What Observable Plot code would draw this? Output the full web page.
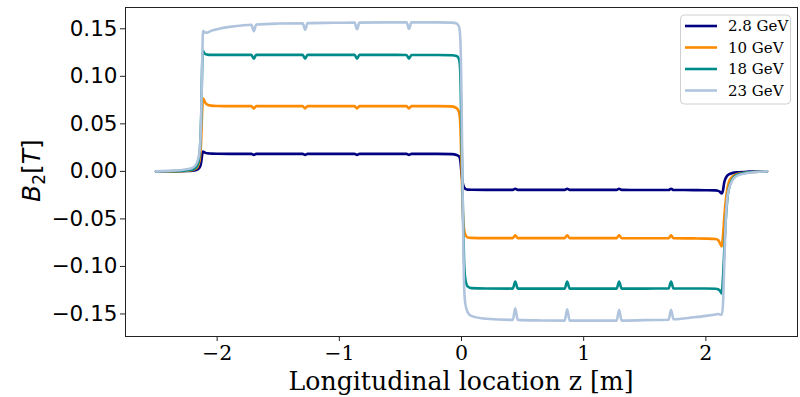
<!DOCTYPE html>
<html>
<head>
<meta charset="utf-8">
<script src="https://cdn.jsdelivr.net/npm/d3@7"></script>
<script src="https://cdn.jsdelivr.net/npm/@observablehq/plot@0.6"></script>
<style>
  html, body { margin: 0; padding: 0; background: #fff; }
  #chart svg { display: block; }
</style>
</head>
<body>
<div id="chart"></div>
<script>
// Longitudinal positions (m), shared by all series
const z = [-2.5, -2.4, -2.3, -2.25, -2.2, -2.18, -2.16, -2.15, -2.14, -2.13, -2.125, -2.12, -2.115, -2.11, -2.1, -2.08, -2.05, -2.0, -1.9, -1.8,
  -1.72, -1.70, -1.68, -1.5, -1.30, -1.28, -1.26, -1.05, -0.875, -0.855, -0.835, -0.65, -0.45, -0.43, -0.41, -0.2, -0.08, -0.04, -0.02, -0.01,
  0, 0.01, 0.02, 0.03, 0.05, 0.08, 0.2, 0.42, 0.44, 0.46, 0.65, 0.845, 0.865, 0.885, 1.05, 1.27, 1.29, 1.31, 1.5, 1.695,
  1.715, 1.735, 1.9, 2.0, 2.08, 2.1, 2.115, 2.13, 2.14, 2.15, 2.16, 2.175, 2.2, 2.25, 2.35, 2.5];

// B2 [T] for each beam energy
const b28 = [0, 0, 0.0002, 0.0004, 0.0008, 0.0012, 0.002, 0.003, 0.005, 0.010, 0.015, 0.0195, 0.0208, 0.0205, 0.0198, 0.019, 0.0187, 0.0185, 0.0184, 0.0184,
  0.0184, 0.0174, 0.0184, 0.0184, 0.0184, 0.0174, 0.0184, 0.0184, 0.0184, 0.0174, 0.0184, 0.0184, 0.0184, 0.0174, 0.0184, 0.0184, 0.0182, 0.0172, 0.0158, 0.012,
  -0.002, -0.012, -0.0165, -0.0182, -0.0192, -0.0194, -0.0195, -0.0195, -0.0182, -0.0195, -0.0195, -0.0195, -0.0182, -0.0195, -0.0195, -0.0195, -0.0182, -0.0195, -0.0196, -0.0196,
  -0.0183, -0.0196, -0.0197, -0.0198, -0.0200, -0.0205, -0.0215, -0.0232, -0.020, -0.012, -0.0078, -0.0045, -0.0025, -0.001, -0.0003, 0];

const b10 = [0, 0, 0.0003, 0.0007, 0.0015, 0.0025, 0.005, 0.008, 0.015, 0.035, 0.055, 0.070, 0.0765, 0.0758, 0.0728, 0.0702, 0.0692, 0.0688, 0.0686, 0.0686,
  0.0686, 0.0662, 0.0686, 0.0686, 0.0686, 0.0662, 0.0686, 0.0686, 0.0686, 0.0662, 0.0686, 0.0686, 0.0686, 0.0662, 0.0686, 0.0686, 0.0684, 0.0665, 0.062, 0.050,
  0.005, -0.040, -0.060, -0.066, -0.0695, -0.0700, -0.0702, -0.0702, -0.0672, -0.0702, -0.0702, -0.0702, -0.0672, -0.0702, -0.0702, -0.0702, -0.0672, -0.0702, -0.0703, -0.0703,
  -0.0673, -0.0703, -0.0705, -0.0707, -0.0712, -0.0722, -0.0755, -0.079, -0.068, -0.050, -0.034, -0.019, -0.008, -0.003, -0.001, 0];

const b18 = [0, 0.0002, 0.0005, 0.001, 0.002, 0.0035, 0.007, 0.012, 0.025, 0.06, 0.095, 0.121, 0.1265, 0.1255, 0.1238, 0.1228, 0.1226, 0.1226, 0.1226, 0.1226,
  0.1226, 0.1185, 0.1226, 0.1226, 0.1226, 0.1185, 0.1226, 0.1226, 0.1226, 0.1185, 0.1226, 0.1226, 0.1225, 0.1185, 0.1225, 0.1224, 0.1222, 0.1215, 0.118, 0.105,
  0.04, -0.03, -0.09, -0.112, -0.121, -0.1228, -0.1232, -0.1233, -0.1158, -0.1233, -0.1233, -0.1233, -0.1158, -0.1233, -0.1233, -0.1233, -0.1158, -0.1233, -0.1233, -0.1232,
  -0.1158, -0.1232, -0.1232, -0.1232, -0.1235, -0.124, -0.1255, -0.1285, -0.112, -0.085, -0.057, -0.030, -0.013, -0.004, -0.001, 0];

const b23 = [0, 0.0005, 0.0012, 0.0022, 0.004, 0.006, 0.011, 0.016, 0.026, 0.06, 0.095, 0.13, 0.1478, 0.1472, 0.1462, 0.146, 0.1478, 0.1495, 0.152, 0.1535,
  0.1542, 0.1475, 0.1545, 0.1555, 0.1558, 0.149, 0.156, 0.1563, 0.1565, 0.1495, 0.1565, 0.1568, 0.1568, 0.150, 0.1568, 0.1568, 0.1565, 0.1555, 0.152, 0.14,
  0.08, -0.03, -0.115, -0.138, -0.148, -0.152, -0.155, -0.1562, -0.144, -0.1562, -0.1568, -0.157, -0.145, -0.157, -0.157, -0.157, -0.1455, -0.157, -0.1565, -0.156,
  -0.1455, -0.1555, -0.1535, -0.152, -0.1505, -0.150, -0.1505, -0.151, -0.140, -0.100, -0.060, -0.028, -0.014, -0.005, -0.0015, 0];

const seriesLabels = ["2.8 GeV", "10 GeV", "18 GeV", "23 GeV"];
const xTicks = [-2, -1, 0, 1, 2];
const yTicks = [-0.15, -0.10, -0.05, 0.00, 0.05, 0.10, 0.15];

// build the table Plot needs
const seriesValues = [b28, b10, b18, b23];
const rows = seriesValues.flatMap((vals, s) => z.map((zz, i) => ({z: zz, b: vals[i], s: seriesLabels[s]})));

const colors = ["#000080", "#ff8c00", "#008b8b", "#b0c4de"];

const W = 800, H = 397;
const mL = 125, mR = 3, mT = 7, mB = 61;

const plot = Plot.plot({
  width: W,
  height: H,
  marginLeft: mL,
  marginRight: mR,
  marginTop: mT,
  marginBottom: mB,
  style: {fontFamily: "'DejaVu Sans', sans-serif", fontSize: "21.5px", color: "#000", background: "#fff", overflow: "visible"},
  x: {domain: [-2.75, 2.75]},
  y: {domain: [-0.1737, 0.1724]},
  color: {domain: seriesLabels, range: colors},
  marks: [
    Plot.line(rows, {x: "z", y: "b", stroke: "s", strokeWidth: 2.6, curve: "monotone-x"}),
    Plot.frame({stroke: "#222", strokeWidth: 1}),
    Plot.axisX({ticks: xTicks, tickFormat: d3.format("d"), tickSize: 5, tickPadding: 4, label: null, stroke: "#222",
      fontFamily: "'DejaVu Serif', serif", fontSize: 20.5}),
    Plot.axisY({ticks: yTicks, tickFormat: d3.format(".2f"), tickSize: 5, tickPadding: 3, label: null, stroke: "#222"})
  ]
});
document.getElementById("chart").appendChild(plot);

const svg = d3.select(plot);

// x axis title
svg.append("text")
  .attr("x", 461).attr("y", 390)
  .attr("text-anchor", "middle")
  .attr("font-family", "'DejaVu Serif', serif")
  .attr("font-size", 26)
  .attr("textLength", 345)
  .attr("lengthAdjust", "spacingAndGlyphs")
  .attr("fill", "#000")
  .text("Longitudinal location z [m]");

// y axis title: B_2[T]
const yl = svg.append("text")
  .attr("transform", "translate(40,170.5) rotate(-90)")
  .attr("text-anchor", "middle")
  .attr("font-family", "'DejaVu Sans', sans-serif")
  .attr("font-size", 25)
  .attr("fill", "#000");
yl.append("tspan").attr("font-style", "italic").text("B");
yl.append("tspan").attr("font-size", 17).attr("dy", 5).text("2");
yl.append("tspan").attr("dy", -5).text("[");
yl.append("tspan").attr("font-style", "italic").text("T");
yl.append("tspan").text("]");

// legend
const lg = svg.append("g").attr("text-anchor", "start");
lg.append("rect")
  .attr("x", 680.5).attr("y", 15).attr("width", 110).attr("height", 89)
  .attr("rx", 4).attr("fill", "#fff").attr("fill-opacity", 0.85)
  .attr("stroke", "#d0d0d0").attr("stroke-width", 1);
seriesLabels.forEach((lab, i) => {
  const yy = 26 + i * 21.5;
  lg.append("line")
    .attr("x1", 685).attr("x2", 717).attr("y1", yy).attr("y2", yy)
    .attr("stroke", colors[i]).attr("stroke-width", 2.6);
  lg.append("text")
    .attr("x", 728).attr("y", yy + 5)
    .attr("text-anchor", "start")
    .attr("font-family", "'DejaVu Serif', serif")
    .attr("font-size", 15)
    .attr("fill", "#000")
    .text(lab);
});
</script>
</body>
</html>
